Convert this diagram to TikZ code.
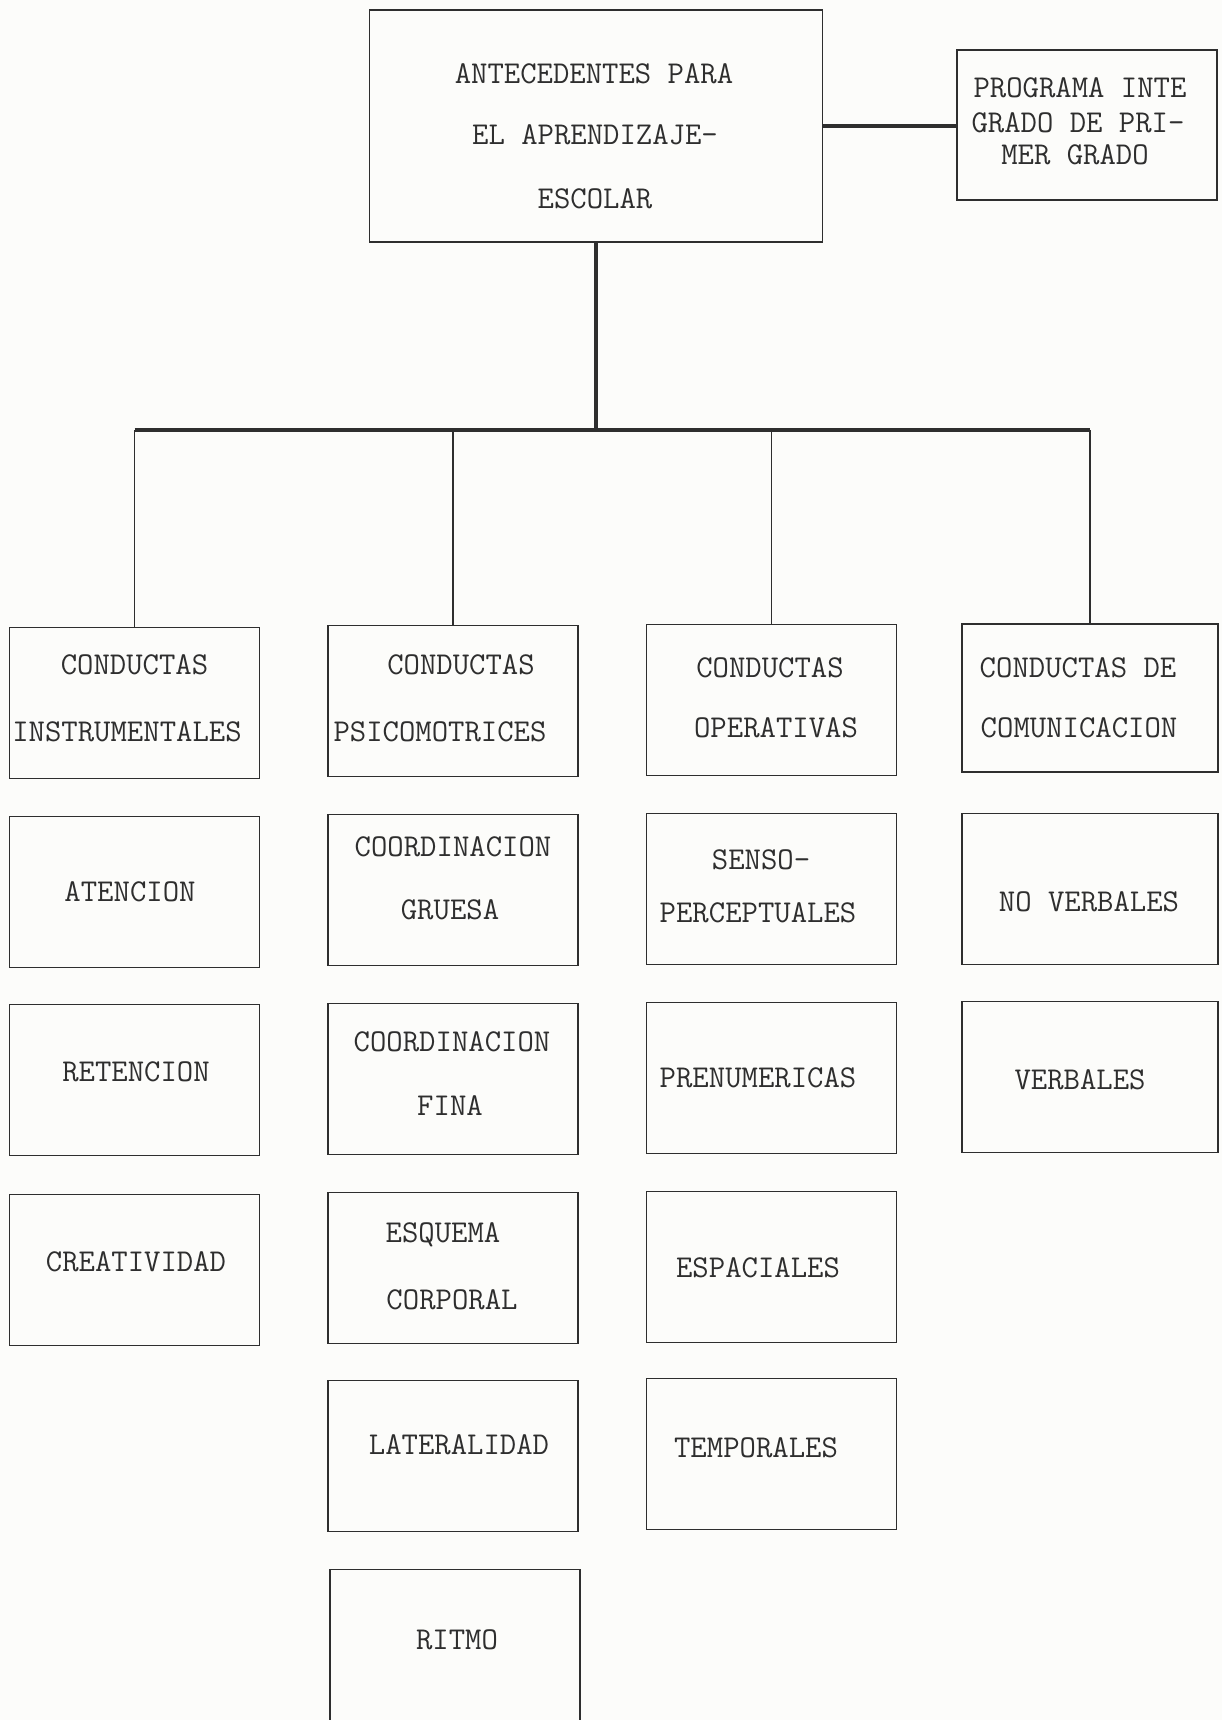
\documentclass[tikz,border=0pt]{standalone}
\usetikzlibrary{positioning}
\definecolor{ink}{HTML}{2E2E2E}
\definecolor{paper}{HTML}{FCFCFA}

\tikzset{
  caja/.style={draw=ink, line width=0.9pt, minimum width=125pt, minimum height=75.5pt, inner sep=0pt},
  rotulo/.style={font=\ttfamily\fontsize{15.9}{18}\selectfont, text=ink, inner sep=0pt,
    text height=9.7pt, text depth=0pt},
  linea/.style={draw=ink, line width=0.7pt},
  gruesa/.style={draw=ink, line width=1.6pt}
}

\begin{document}
\begin{tikzpicture}[x=0.5pt,y=-0.5pt]
  \useasboundingbox (0,0) rectangle (1222,1720);
  \clip (0,0) rectangle (1222,1720);
  \fill[paper] (0,0) rectangle (1222,1720);

  % raiz y programa
  \node[caja, minimum width=226.5pt, minimum height=116pt] (raiz) at (596,126) {};
  \node[rotulo] (raiz-1) at (594,74) {ANTECEDENTES PARA};
  \node[rotulo] (raiz-2) at (595,135) {EL APRENDIZAJE-};
  \node[rotulo] (raiz-3) at (595,199) {ESCOLAR};
  \node[caja, minimum width=130pt, minimum height=75pt] (programa) at (1087,125) {};
  \node[rotulo] (prog-1) at (1080,88) {PROGRAMA INTE};
  \node[rotulo] (prog-2) at (1078,123) {GRADO DE PRI-};
  \node[rotulo] (prog-3) at (1075,155) {MER GRADO};

  % cabeceras
  \node[caja] (instr) at (134.5,703) {};
  \node[rotulo] (instr-1) at (134.5,665) {CONDUCTAS};
  \node[rotulo] (instr-2) at (127,732) {INSTRUMENTALES};
  \node[caja] (psico) at (453,701) {};
  \node[rotulo] (psico-1) at (461,665) {CONDUCTAS};
  \node[rotulo] (psico-2) at (440,732) {PSICOMOTRICES};
  \node[caja] (opera) at (771.5,700) {};
  \node[rotulo] (opera-1) at (770,668) {CONDUCTAS};
  \node[rotulo] (opera-2) at (776,728) {OPERATIVAS};
  \node[caja, minimum width=128pt, minimum height=74pt] (comun) at (1090,698) {};
  \node[rotulo] (comun-1) at (1078,668) {CONDUCTAS DE};
  \node[rotulo] (comun-2) at (1079,728) {COMUNICACION};

  % columna 1
  \node[caja] (aten) at (134.5,892) {};
  \node[rotulo] (aten-1) at (130,892) {ATENCION};
  \node[caja] (reten) at (134.5,1080) {};
  \node[rotulo] (reten-1) at (136,1072) {RETENCION};
  \node[caja] (creat) at (134.5,1270) {};
  \node[rotulo] (creat-1) at (136,1262) {CREATIVIDAD};

  % columna 2
  \node[caja] (gruesa) at (453,890) {};
  \node[rotulo] (gruesa-1) at (453,847) {COORDINACION};
  \node[rotulo] (gruesa-2) at (450,910) {GRUESA};
  \node[caja] (fina) at (453,1079) {};
  \node[rotulo] (fina-1) at (452,1042) {COORDINACION};
  \node[rotulo] (fina-2) at (450,1106) {FINA};
  \node[caja] (esquema) at (453,1268) {};
  \node[rotulo] (esquema-1) at (443,1233) {ESQUEMA};
  \node[rotulo] (esquema-2) at (452,1300) {CORPORAL};
  \node[caja] (lateral) at (453,1456) {};
  \node[rotulo] (lateral-1) at (459,1445) {LATERALIDAD};
  \node[caja] (ritmo) at (455,1645) {};
  \node[rotulo] (ritmo-1) at (457,1640) {RITMO};

  % columna 3
  \node[caja] (senso) at (771.5,889) {};
  \node[rotulo] (senso-1) at (761,860) {SENSO-};
  \node[rotulo] (senso-2) at (758,913) {PERCEPTUALES};
  \node[caja] (prenum) at (771.5,1078) {};
  \node[rotulo] (prenum-1) at (758,1078) {PRENUMERICAS};
  \node[caja] (espac) at (771.5,1267) {};
  \node[rotulo] (espac-1) at (758,1268) {ESPACIALES};
  \node[caja] (tempo) at (771.5,1454) {};
  \node[rotulo] (tempo-1) at (756,1448) {TEMPORALES};

  % columna 4
  \node[caja, minimum width=128pt] (noverb) at (1090,889) {};
  \node[rotulo] (noverb-1) at (1089,902) {NO VERBALES};
  \node[caja, minimum width=128pt] (verb) at (1090,1077) {};
  \node[rotulo] (verb-1) at (1080,1080) {VERBALES};

  % conectores
  \coordinate (bus) at (596,430);
  \draw[gruesa] (raiz.east) -- (raiz.east -| programa.west);
  \draw[gruesa] (raiz.south) -- (bus);
  \draw[gruesa] (instr.north |- bus) -- (comun.north |- bus);
  \draw[linea] (instr.north |- bus) -- (instr.north);
  \draw[linea] (psico.north |- bus) -- (psico.north);
  \draw[linea] (opera.north |- bus) -- (opera.north);
  \draw[linea] (comun.north |- bus) -- (comun.north);
\end{tikzpicture}
\end{document}
